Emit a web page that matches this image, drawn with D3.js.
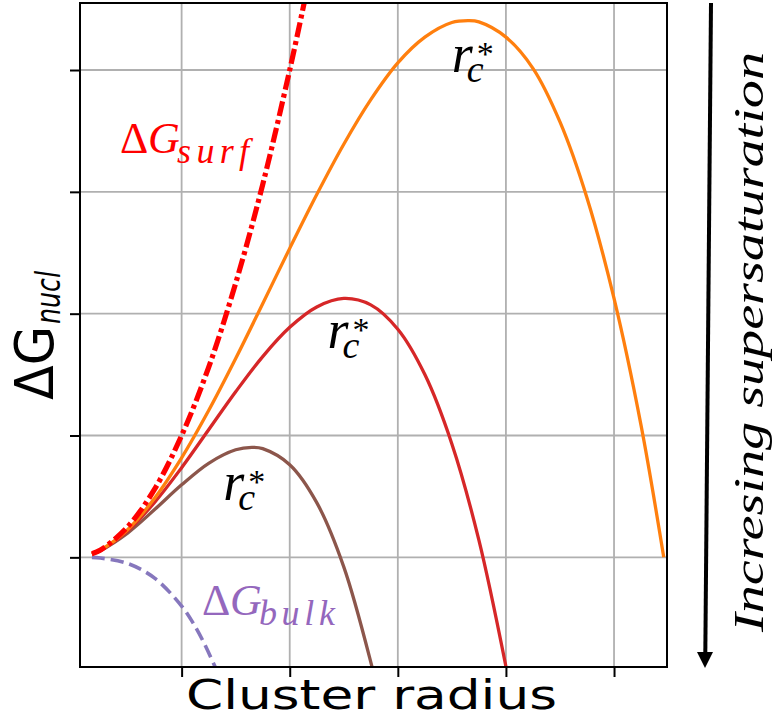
<!DOCTYPE html>
<html>
<head>
<meta charset="utf-8">
<script src="https://cdn.jsdelivr.net/npm/d3@7"></script>
<style>
  html, body { margin: 0; padding: 0; background: #fff; }
  svg { display: block; }
</style>
</head>
<body>
<svg id="chart" width="775" height="719"></svg>
<script>
// Tick positions (no tick labels are shown on either axis)
const xTicks = [1, 2, 3, 4, 5];
const yTicks = [0, 1, 2, 3, 4];

// Surface term (dash-dot) and bulk term (dashed)
const rSurf = [0.17, 0.25, 0.5, 0.75, 1.0, 1.25, 1.5, 1.75, 2.0, 2.15];
const gSurf = [0.03, 0.06, 0.25, 0.56, 1.0, 1.56, 2.25, 3.06, 4.0, 4.62];

const rBulk = [0.17, 0.25, 0.5, 0.75, 1.0, 1.1, 1.2, 1.3, 1.35];
const gBulk = [0.0, -0.006, -0.05, -0.17, -0.4, -0.53, -0.69, -0.88, -0.98];

// Total nucleation free energy for three supersaturations
const rLow = [0.17, 0.25, 0.5, 0.75, 1.0, 1.25, 1.5, 1.75, 2.0, 2.25, 2.5, 2.75, 3.0, 3.25, 3.5, 3.65, 3.75, 4.0, 4.25, 4.5, 4.75, 5.0, 5.25, 5.46];
const gLow = [0.028, 0.060, 0.227, 0.485, 0.817, 1.205, 1.632, 2.082, 2.536, 2.978, 3.391, 3.757, 4.059, 4.27, 4.39, 4.405, 4.395, 4.27, 4.014, 3.574, 2.950, 2.125, 1.083, 0.0];

const rMid = [0.17, 0.25, 0.5, 0.75, 1.0, 1.25, 1.5, 1.75, 2.0, 2.25, 2.5, 2.75, 3.0, 3.25, 3.5, 3.75, 4.0, 4.05];
const gMid = [0.028, 0.058, 0.217, 0.451, 0.736, 1.047, 1.359, 1.648, 1.888, 2.055, 2.125, 2.072, 1.872, 1.50, 0.931, 0.141, -0.896, -1.135];

const rHigh = [0.17, 0.25, 0.5, 0.75, 1.0, 1.25, 1.5, 1.65, 1.75, 2.0, 2.25, 2.5, 2.75, 2.8];
const gHigh = [0.027, 0.056, 0.199, 0.392, 0.595, 0.772, 0.883, 0.903, 0.892, 0.76, 0.449, -0.078, -0.86, -1.05];

// Critical-radius label anchors (data coordinates)
const rcLabels = [[3.50, 3.98], [2.35, 1.72], [1.385, 0.47]];

const svg = d3.select("#chart");
const plot = { left: 80, top: 3, right: 667, bottom: 667 };

const x = d3.scaleLinear().domain([0.06, 5.49]).range([plot.left, plot.right]);
const y = d3.scaleLinear().domain([-0.9, 4.55]).range([plot.bottom, plot.top]);

svg.append("defs").append("clipPath").attr("id", "plotClip")
  .append("rect")
  .attr("x", plot.left).attr("y", plot.top)
  .attr("width", plot.right - plot.left).attr("height", plot.bottom - plot.top);

// Grid
const grid = svg.append("g");
grid.selectAll("line.vx").data(xTicks).join("line")
  .attr("x1", d => x(d)).attr("x2", d => x(d))
  .attr("y1", plot.top).attr("y2", plot.bottom)
  .attr("stroke", "#b0b0b0").attr("stroke-width", 1.8);
grid.selectAll("line.hy").data(yTicks).join("line")
  .attr("y1", d => y(d)).attr("y2", d => y(d))
  .attr("x1", plot.left).attr("x2", plot.right)
  .attr("stroke", "#b0b0b0").attr("stroke-width", 1.8);

// Axes: ticks only, no labels
const xAxis = d3.axisBottom(x).tickValues(xTicks).tickFormat("").tickSize(10).tickSizeOuter(0);
const yAxis = d3.axisLeft(y).tickValues(yTicks).tickFormat("").tickSize(10).tickSizeOuter(0);
svg.append("g").attr("transform", `translate(0,${plot.bottom})`).call(xAxis)
  .call(g => g.select(".domain").remove())
  .call(g => g.selectAll(".tick line").attr("stroke", "#000").attr("stroke-width", 2));
svg.append("g").attr("transform", `translate(${plot.left},0)`).call(yAxis)
  .call(g => g.select(".domain").remove())
  .call(g => g.selectAll(".tick line").attr("stroke", "#000").attr("stroke-width", 2));

// Curves
const line = d3.line()
  .x(d => x(d[0])).y(d => y(d[1]))
  .curve(d3.curveCatmullRom.alpha(0.5));
const zip = (a, b) => a.map((v, i) => [v, b[i]]);

const curves = svg.append("g").attr("clip-path", "url(#plotClip)");
const series = [
  { r: rBulk, g: gBulk, color: "#8677bd", width: 3.6, dash: "13,6" },
  { r: rHigh, g: gHigh, color: "#8c564b", width: 3.3, dash: null },
  { r: rMid,  g: gMid,  color: "#d62728", width: 3.3, dash: null },
  { r: rLow,  g: gLow,  color: "#ff7f0e", width: 3.3, dash: null },
  { r: rSurf, g: gSurf, color: "#ff0000", width: 5.2, dash: "15,4,4,4" }
];
curves.selectAll("path").data(series).join("path")
  .attr("d", s => line(zip(s.r, s.g)))
  .attr("fill", "none")
  .attr("stroke", s => s.color)
  .attr("stroke-width", s => s.width)
  .attr("stroke-dasharray", s => s.dash)
  .attr("stroke-linejoin", "round");

// Frame
svg.append("rect")
  .attr("x", plot.left).attr("y", plot.top)
  .attr("width", plot.right - plot.left).attr("height", plot.bottom - plot.top)
  .attr("fill", "none").attr("stroke", "#000").attr("stroke-width", 2);

// Axis titles
const sans = "'DejaVu Sans', sans-serif";
const serif = "'Liberation Serif', 'Times New Roman', serif";

svg.append("text")
  .attr("x", 186).attr("y", 709)
  .attr("font-family", sans).attr("font-size", 41)
  .attr("textLength", 371).attr("lengthAdjust", "spacingAndGlyphs")
  .attr("fill", "#000")
  .text("Cluster radius");

const yl = svg.append("text")
  .attr("transform", "translate(53,400) rotate(-90)")
  .attr("font-family", sans).attr("fill", "#000");
yl.append("tspan").attr("x", 0).attr("y", 0).attr("font-size", 54)
  .attr("textLength", 74).attr("lengthAdjust", "spacingAndGlyphs")
  .text("ΔG");
yl.append("tspan").attr("x", 76).attr("y", 7).attr("font-size", 34)
  .attr("font-style", "italic")
  .attr("textLength", 53).attr("lengthAdjust", "spacingAndGlyphs")
  .text("nucl");

// Term labels: upright Δ, italic G, italic subscript
function termLabel(px, py, sub, color, subLen) {
  const t = svg.append("text").attr("fill", color).attr("font-family", serif);
  t.append("tspan").attr("x", px).attr("y", py).attr("font-size", 44).text("Δ");
  t.append("tspan").attr("x", px + 28).attr("y", py).attr("font-size", 44)
    .attr("font-style", "italic").text("G");
  t.append("tspan").attr("x", px + 57).attr("y", py + 10).attr("font-size", 36)
    .attr("font-style", "italic")
    .attr("textLength", subLen).attr("lengthAdjust", "spacing")
    .text(sub);
}
termLabel(x(0.431), y(3.318), "surf", "#ff0000", 72);
termLabel(x(1.188), y(-0.476), "bulk", "#9467bd", 76);

// Critical radius labels r_c^*
rcLabels.forEach(([lx, ly]) => {
  const px = x(lx), py = y(ly);
  const t = svg.append("text").attr("fill", "#000").attr("font-family", serif);
  t.append("tspan").attr("x", px).attr("y", py).attr("font-size", 54)
    .attr("font-style", "italic").text("r");
  t.append("tspan").attr("x", px + 15).attr("y", py + 10).attr("font-size", 38)
    .attr("font-style", "italic").text("c");
  t.append("tspan").attr("x", px + 25).attr("y", py - 7).attr("font-size", 34).text("*");
});

// Supersaturation arrow and caption
const arrow = svg.append("g");
arrow.append("line")
  .attr("x1", 711).attr("y1", 3).attr("x2", 705.3).attr("y2", 654)
  .attr("stroke", "#000").attr("stroke-width", 4);
arrow.append("path")
  .attr("d", "M697,652 L713,652 L705,668 Z")
  .attr("fill", "#000");

svg.append("text")
  .attr("transform", "translate(763,632) rotate(-90)")
  .attr("font-family", serif).attr("font-style", "italic").attr("font-size", 42)
  .attr("textLength", 580).attr("lengthAdjust", "spacingAndGlyphs")
  .attr("fill", "#000")
  .text("Incresing supersaturation");
</script>
</body>
</html>
